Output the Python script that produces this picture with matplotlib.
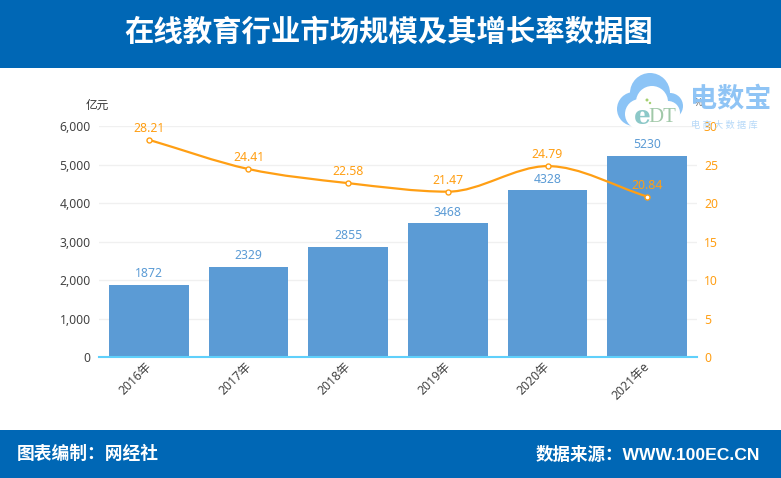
import matplotlib
matplotlib.use("Agg")
import matplotlib.pyplot as plt
from matplotlib.patches import Circle, PathPatch, Rectangle
from matplotlib.path import Path
from matplotlib.transforms import ScaledTranslation

plt.rcParams["font.family"] = ["Noto Sans", "Noto Sans CJK SC", "DejaVu Sans"]

years = ["2016年", "2017年", "2018年", "2019年", "2020年", "2021年e"]
market_size = [1872, 2329, 2855, 3468, 4328, 5230]
growth_rate = [28.21, 24.41, 22.58, 21.47, 24.79, 20.84]
left_ticks = [0, 1000, 2000, 3000, 4000, 5000, 6000]
right_ticks = [0, 5, 10, 15, 20, 25, 30]

BLUE = "#5b9bd5"
ORANGE = "#ff9f14"
HEADER = "#0067b5"
W, H = 781, 478


def smooth_path(xs, ys, k=0.33):
    # bezier through the points, flat at local extremes, straight at the ends
    verts = [(xs[0], ys[0])]
    codes = [Path.MOVETO]
    n = len(xs)

    def slope(i):
        if i == 0:
            return ys[1] - ys[0]
        if i == n - 1:
            return ys[-1] - ys[-2]
        if (ys[i] - ys[i - 1]) * (ys[i + 1] - ys[i]) < 0:
            return 0
        return (ys[i + 1] - ys[i - 1]) / 2

    for i in range(n - 1):
        verts += [(xs[i] + k, ys[i] + slope(i) * k), (xs[i + 1] - k, ys[i + 1] - slope(i + 1) * k),
                  (xs[i + 1], ys[i + 1])]
        codes += [Path.CURVE4, Path.CURVE4, Path.CURVE4]
    return Path(verts, codes)


fig = plt.figure(figsize=(W / 100, H / 100), dpi=100)
fig.patch.set_facecolor("white")

# header and footer bands
fig.add_artist(Rectangle((0, 1 - 68 / H), 1, 68 / H, transform=fig.transFigure, color=HEADER, lw=0))
fig.add_artist(Rectangle((0, 0), 1, 48 / H, transform=fig.transFigure, color=HEADER, lw=0))
fig.text(389 / W, 1 - 33.5 / H, "在线教育行业市场规模及其增长率数据图", color="white", fontsize=21.2,
         fontweight="bold", ha="center", va="center")
foot_font = ["Liberation Sans", "Noto Sans CJK SC"]
fig.text(17 / W, 1 - 454 / H, "图表编制：网经社", color="white", fontsize=12.8, fontweight="bold", va="center",
         family=foot_font)
fig.text(760 / W, 1 - 454 / H, "数据来源：WWW.100EC.CN", color="white", fontsize=12.6, fontweight="bold",
         ha="right", va="center", family=foot_font)

ax = fig.add_axes([99 / W, 1 - 357 / H, 598 / W, 231 / H])
x = list(range(len(years)))
ax.bar(x, market_size, width=0.8, color=BLUE, zorder=2)
ax.set_xlim(-0.5, 5.5)
ax.set_ylim(0, 6000)
ax.set_yticks(left_ticks)
ax.set_yticklabels([f"{v:,}" for v in left_ticks], color="#444444", fontsize=8.8)
ax.set_xticks(x)
ax.set_xticklabels(years, rotation=45, ha="right", rotation_mode="anchor", color="#444444", fontsize=8.8)
ax.tick_params(axis="both", length=0)
ax.tick_params(axis="y", pad=6)
ax.tick_params(axis="x", pad=2)
shift = ScaledTranslation(-4 / 100, 0, fig.dpi_scale_trans)
for lab in ax.get_xticklabels():
    lab.set_transform(lab.get_transform() + shift)
ax.grid(axis="y", color="#f0f0f0", lw=1, zorder=0)
for s in ["top", "left", "right"]:
    ax.spines[s].set_visible(False)
ax.spines["bottom"].set_color("#5fd0fb")
ax.spines["bottom"].set_linewidth(1.5)
ax.spines["bottom"].set_zorder(4)
for i, v in enumerate(market_size):
    ax.annotate(str(v), (i, v), xytext=(0, 3.5), textcoords="offset points", ha="center", va="bottom",
                color=BLUE, fontsize=8.8)

ax2 = ax.twinx()
ax2.set_ylim(0, 30)
ax2.set_yticks(right_ticks)
ax2.set_yticklabels([str(v) for v in right_ticks], color=ORANGE, fontsize=8.8)
ax2.tick_params(axis="y", length=0, pad=5)
for s in ax2.spines.values():
    s.set_visible(False)
ax2.add_patch(PathPatch(smooth_path(x, growth_rate), fc="none", ec=ORANGE, lw=1.6, zorder=3))
ax2.plot(x, growth_rate, ls="none", marker="o", ms=3.6, mfc="white", mec=ORANGE, mew=1, zorder=4)
for i, v in enumerate(growth_rate):
    ax2.annotate(f"{v:.2f}", (i, v), xytext=(0, 3.5), textcoords="offset points", ha="center", va="bottom",
                 color=ORANGE, fontsize=8.8, zorder=5)

fig.text(86 / W, 1 - 106 / H, "亿元", color="#333333", fontsize=8.4, va="center")
fig.text(693 / W, 1 - 104 / H, "%", color="#777777", fontsize=8, va="center")

# watermark logo
cloud = "#8cc4f6"
for cx, cy, r in [(634, 109, 17), (650, 93, 20), (670, 106, 13)]:
    fig.add_artist(Circle((cx, H - cy), r, transform=None, color=cloud, lw=0, zorder=6))
for cx, cy, r in [(640, 114, 15), (652, 102, 16), (668, 113, 12)]:
    fig.add_artist(Circle((cx, H - cy), r, transform=None, color="white", lw=0, zorder=6))
for cx, cy, r in [(647, 100, 1.5), (650, 103, 1.2)]:
    fig.add_artist(Circle((cx, H - cy), r, transform=None, color="#a5d070", lw=0, zorder=7))
fig.text(634 / W, 1 - 116 / H, "e", color="#8cc8c8", fontsize=19, fontweight="bold", family="DejaVu Serif",
         va="center", zorder=7)
fig.text(648 / W, 1 - 117 / H, "DT", color="#a0c8a8", fontsize=15, family="Liberation Serif",
         va="center", zorder=7)
fig.text(690 / W, 1 - 99 / H, "电数宝", color="#8fc4f5", fontsize=19.5, fontweight="bold", va="center", zorder=7)
fig.text(691 / W, 1 - 125 / H, "电 商 大 数 据 库", color="#b5d8f8", fontsize=6.6, va="center", zorder=7)

fig.savefig("out.png", dpi=100)
